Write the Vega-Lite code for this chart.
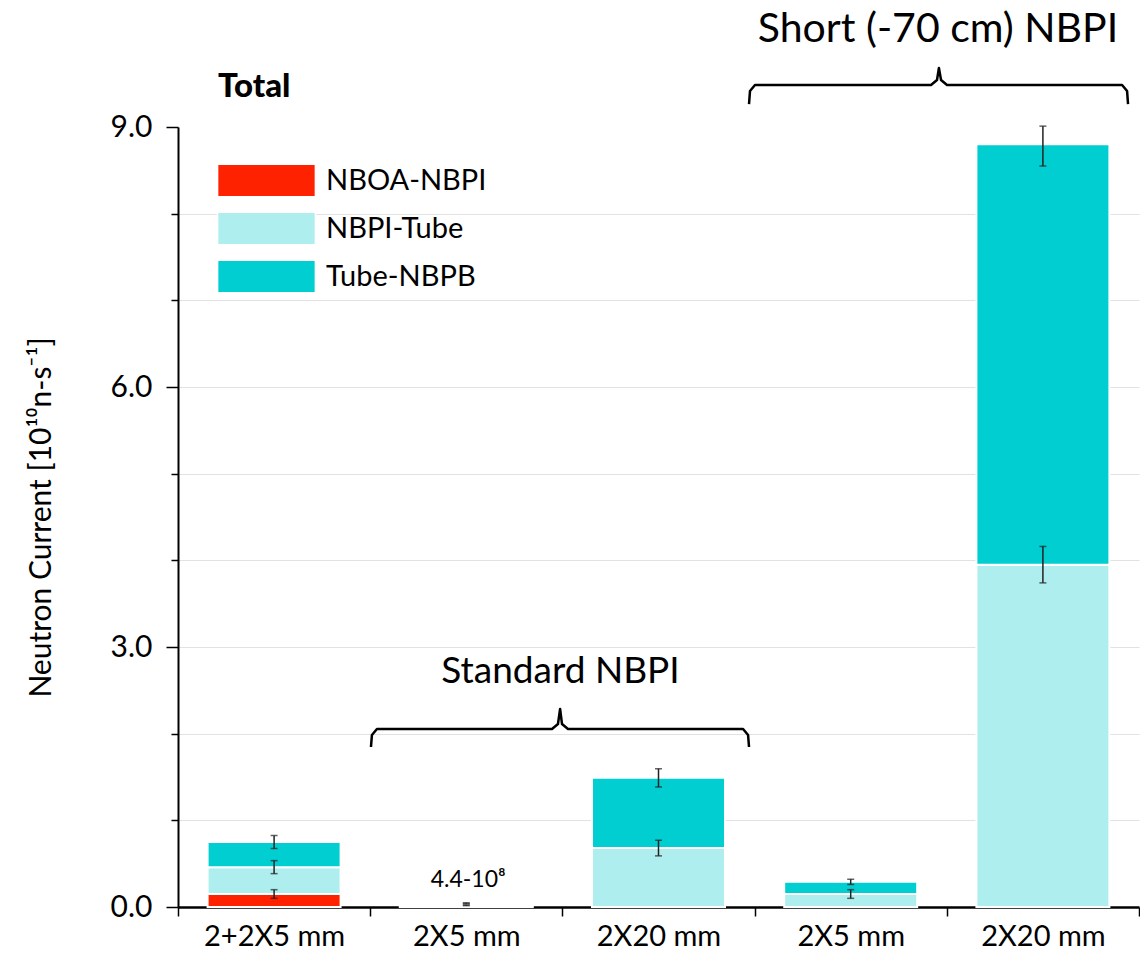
{
  "$schema": "https://vega.github.io/schema/vega-lite/v6.json",
  "width": 961,
  "height": 780,
  "autosize": {"type": "none"},
  "padding": {"left": 178, "top": 127, "right": 1, "bottom": 51},
  "background": "white",
  "config": {"view": {"stroke": null}, "font": "Lato"},
  "datasets": {
    "bars": [
      {"cat": "a", "series": "NBOA-NBPI", "k": 1, "value": 0.15, "lo": 0.10, "hi": 0.20},
      {"cat": "a", "series": "NBPI-Tube", "k": 2, "value": 0.31, "lo": 0.385, "hi": 0.535},
      {"cat": "a", "series": "Tube-NBPB", "k": 3, "value": 0.29, "lo": 0.675, "hi": 0.825},
      {"cat": "b", "series": "NBPI-Tube", "k": 2, "value": 0.02, "lo": 0.016, "hi": 0.024},
      {"cat": "b", "series": "Tube-NBPB", "k": 3, "value": 0.024, "lo": 0.040, "hi": 0.048},
      {"cat": "c", "series": "NBPI-Tube", "k": 2, "value": 0.68, "lo": 0.59, "hi": 0.77},
      {"cat": "c", "series": "Tube-NBPB", "k": 3, "value": 0.81, "lo": 1.385, "hi": 1.595},
      {"cat": "d", "series": "NBPI-Tube", "k": 2, "value": 0.15, "lo": 0.10, "hi": 0.20},
      {"cat": "d", "series": "Tube-NBPB", "k": 3, "value": 0.14, "lo": 0.26, "hi": 0.32},
      {"cat": "e", "series": "NBPI-Tube", "k": 2, "value": 3.95, "lo": 3.74, "hi": 4.16},
      {"cat": "e", "series": "Tube-NBPB", "k": 3, "value": 4.85, "lo": 8.55, "hi": 9.01}
    ],
    "braces": [
      {"g": "std", "i": 1, "u": 1.004, "v": 1.846},
      {"g": "std", "i": 2, "u": 1.009, "v": 1.985},
      {"g": "std", "i": 3, "u": 1.035, "v": 2.054},
      {"g": "std", "i": 4, "u": 1.946, "v": 2.054},
      {"g": "std", "i": 5, "u": 1.977, "v": 2.111},
      {"g": "std", "i": 6, "u": 1.988, "v": 2.285},
      {"g": "std", "i": 7, "u": 1.998, "v": 2.111},
      {"g": "std", "i": 8, "u": 2.029, "v": 2.054},
      {"g": "std", "i": 9, "u": 2.940, "v": 2.054},
      {"g": "std", "i": 10, "u": 2.966, "v": 1.985},
      {"g": "std", "i": 11, "u": 2.971, "v": 1.846},
      {"g": "short", "i": 1, "u": 2.971, "v": 9.265},
      {"g": "short", "i": 2, "u": 2.976, "v": 9.415},
      {"g": "short", "i": 3, "u": 3.002, "v": 9.484},
      {"g": "short", "i": 4, "u": 3.918, "v": 9.484},
      {"g": "short", "i": 5, "u": 3.949, "v": 9.542},
      {"g": "short", "i": 6, "u": 3.959, "v": 9.680},
      {"g": "short", "i": 7, "u": 3.970, "v": 9.542},
      {"g": "short", "i": 8, "u": 4.001, "v": 9.484},
      {"g": "short", "i": 9, "u": 4.912, "v": 9.484},
      {"g": "short", "i": 10, "u": 4.938, "v": 9.415},
      {"g": "short", "i": 11, "u": 4.943, "v": 9.265}
    ],
    "notes": [
      {"kind": "std", "u": 1.99, "v": 2.71, "t": "Standard NBPI"},
      {"kind": "short", "u": 3.954, "v": 10.12, "t": "Short (-70 cm) NBPI"},
      {"kind": "small", "u": 1.51, "v": 0.31, "t": "4.4-10⁸"},
      {"kind": "title", "u": 0.208, "v": 9.46, "t": "Total"}
    ]
  },
  "layer": [
    {
      "data": {"name": "bars"},
      "layer": [
        {
          "mark": {"type": "bar", "width": 133, "stroke": "white", "strokeWidth": 2},
          "encoding": {
            "x": {
              "field": "cat", "type": "nominal",
              "scale": {"domain": ["a", "b", "c", "d", "e"], "paddingInner": 0, "paddingOuter": 0},
              "axis": {
                "title": null,
                "labelExpr": "{'a':'2+2X5 mm','b':'2X5 mm','c':'2X20 mm','d':'2X5 mm','e':'2X20 mm'}[datum.value]",
                "labelAngle": 0, "labelFontSize": 29, "labelColor": "black", "labelPadding": 6,
                "tickBand": "extent", "tickSize": 9, "tickColor": "black", "tickWidth": 1.5,
                "domainColor": "black", "domainWidth": 2.5, "grid": false
              }
            },
            "y": {
              "field": "value", "type": "quantitative", "stack": "zero",
              "title": "Neutron Current [10¹⁰n-s⁻¹]",
              "scale": {"domain": [0, 9], "nice": false},
              "axis": {
                "values": [0, 1, 2, 3, 4, 5, 6, 7, 8, 9],
                "labelExpr": "datum.value % 3 === 0 ? format(datum.value, '.1f') : ''",
                "tickSize": {"condition": {"test": "datum.value % 3 === 0", "value": 12}, "value": 7},
                "tickColor": "black", "tickWidth": 1.5,
                "grid": true, "gridColor": "#e2e2e2", "gridWidth": 1,
                "gridOpacity": {"condition": {"test": "datum.value === 0 || datum.value === 9", "value": 0}, "value": 1},
                "domainColor": "black", "domainWidth": 2,
                "labelFontSize": 30, "labelColor": "black", "labelPadding": 14,
                "titleFontSize": 30, "titleFontWeight": "normal", "titleLimit": 1000,
                "titleColor": "black", "titlePadding": 54
              }
            },
            "color": {
              "field": "series", "type": "nominal",
              "scale": {"domain": ["NBOA-NBPI", "NBPI-Tube", "Tube-NBPB"], "range": ["#ff2200", "#afeeee", "#00ced1"]},
              "legend": {
                "title": null, "orient": "none", "legendX": 71, "legendY": 36,
                "symbolType": "M-3,-1H3V1H-3Z", "symbolSize": 1063, "symbolOpacity": 1,
                "symbolStrokeColor": "white", "symbolStrokeWidth": 1.5,
                "labelFontSize": 29, "labelColor": "black", "labelOffset": 42, "labelLimit": 400, "rowPadding": 9,
                "padding": 0
              }
            },
            "order": {"field": "k", "type": "quantitative"}
          }
        },
        {
          "mark": {"type": "errorbar", "ticks": {"size": 7, "thickness": 1.5, "color": "#222222"}, "rule": {"strokeWidth": 1.5, "color": "#222222"}},
          "encoding": {
            "x": {"field": "cat", "type": "nominal"},
            "y": {"field": "lo", "type": "quantitative", "title": "Neutron Current [10¹⁰n-s⁻¹]"},
            "y2": {"field": "hi"}
          }
        }
      ]
    },
    {
      "data": {"name": "braces"},
      "mark": {"type": "line", "color": "black", "strokeWidth": 2.5, "strokeJoin": "round"},
      "encoding": {
        "x": {"field": "u", "type": "quantitative", "scale": {"domain": [0, 5], "nice": false, "zero": false}, "axis": null},
        "y": {"field": "v", "type": "quantitative", "title": "Neutron Current [10¹⁰n-s⁻¹]"},
        "detail": {"field": "g"},
        "order": {"field": "i", "type": "quantitative"}
      }
    },
    {
      "data": {"name": "notes"},
      "transform": [{"filter": "datum.kind === 'std'"}],
      "mark": {"type": "text", "fontSize": 37, "color": "black", "baseline": "middle", "align": "center"},
      "encoding": {
        "x": {"field": "u", "type": "quantitative", "scale": {"domain": [0, 5], "nice": false, "zero": false}, "axis": null},
        "y": {"field": "v", "type": "quantitative", "title": "Neutron Current [10¹⁰n-s⁻¹]"},
        "text": {"field": "t"}
      }
    },
    {
      "data": {"name": "notes"},
      "transform": [{"filter": "datum.kind === 'short'"}],
      "mark": {"type": "text", "fontSize": 41, "color": "black", "baseline": "middle", "align": "center"},
      "encoding": {
        "x": {"field": "u", "type": "quantitative", "scale": {"domain": [0, 5], "nice": false, "zero": false}, "axis": null},
        "y": {"field": "v", "type": "quantitative", "title": "Neutron Current [10¹⁰n-s⁻¹]"},
        "text": {"field": "t"}
      }
    },
    {
      "data": {"name": "notes"},
      "transform": [{"filter": "datum.kind === 'small'"}],
      "mark": {"type": "text", "fontSize": 23, "color": "black", "baseline": "middle", "align": "center"},
      "encoding": {
        "x": {"field": "u", "type": "quantitative", "scale": {"domain": [0, 5], "nice": false, "zero": false}, "axis": null},
        "y": {"field": "v", "type": "quantitative", "title": "Neutron Current [10¹⁰n-s⁻¹]"},
        "text": {"field": "t"}
      }
    },
    {
      "data": {"name": "notes"},
      "transform": [{"filter": "datum.kind === 'title'"}],
      "mark": {"type": "text", "fontSize": 33, "fontWeight": 900, "color": "black", "baseline": "middle", "align": "left"},
      "encoding": {
        "x": {"field": "u", "type": "quantitative", "scale": {"domain": [0, 5], "nice": false, "zero": false}, "axis": null},
        "y": {"field": "v", "type": "quantitative", "title": "Neutron Current [10¹⁰n-s⁻¹]"},
        "text": {"field": "t"}
      }
    }
  ],
  "resolve": {"scale": {"x": "independent"}}
}
